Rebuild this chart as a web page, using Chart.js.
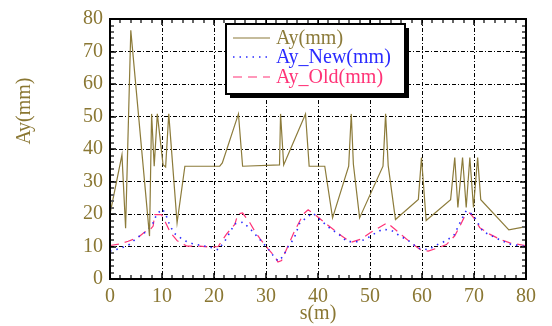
<!DOCTYPE html>
<html>
<head>
<meta charset="utf-8">
<script src="https://cdn.jsdelivr.net/npm/chart.js@4.4.1/dist/chart.umd.min.js"></script>
<style>
  html, body { margin: 0; padding: 0; background: #fff; }
</style>
</head>
<body>
<canvas id="aychart" width="552" height="326"></canvas>
<script>
// beam size along s, three curves
var sAy = [0, 2.3, 3.0, 4.0, 7.6, 8.0, 8.5, 9.1, 10.2, 10.7, 11.3, 12.9, 14.4, 21.1, 21.6, 24.7, 25.5,
  32.6, 32.8, 33.4, 37.6, 38.3, 41.3, 42.8, 45.9, 46.4, 46.8, 48.0, 52.5, 53.0, 53.5, 54.9, 59.3,
  59.9, 60.8, 65.5, 66.3, 66.9, 67.8, 68.5, 69.2, 69.9, 70.7, 71.3, 76.7, 80];
var ay = [20, 38.2, 15.6, 76.5, 13.2, 50.8, 34.7, 50.8, 35.2, 34.5, 50.8, 17.3, 34.7, 34.7, 35.7, 50.8, 34.7,
  35.1, 50.8, 35.1, 50.8, 34.7, 34.7, 18.8, 34.7, 50.8, 35.4, 18.8, 34.7, 50.8, 34.9, 18.3, 24.5,
  37.4, 18.0, 24.4, 37.4, 22, 37.4, 22, 37.4, 22, 37.4, 24.4, 15.1, 16.1];

var sNew = [0, 2, 3.7, 5.2, 7.0, 8.3, 9.0, 10.1, 10.8, 11.5, 12.4, 14.2, 15.8, 17.6, 19.2, 20.8, 22.1,
  24.0, 25.6, 27.2, 28.8, 30.4, 31.7, 32.4, 33.3, 34.2, 35.4, 36.5, 39.0, 40.0, 42.3, 44.0, 45.6,
  47.6, 49.0, 50.7, 52.4, 54.1, 55.7, 57.6, 59.2, 61.2, 62.6, 64.4, 66.1, 67.6, 68.5, 69.8, 71.7,
  73.5, 75.3, 77.2, 78.6, 80];
var ayNew = [8.6, 9.4, 10.6, 12.7, 14.6, 17.3, 20.0, 21.5, 19.5, 16.5, 14.0, 11.9, 10.9, 10.3, 9.8, 9.0, 11.7,
  17.0, 17.5, 15.0, 12.2, 9.3, 6.5, 5.5, 7.0, 9.8, 12.5, 17.3, 20.3, 18.8, 15.6, 13.8, 11.5,
  11.5, 12.1, 13.8, 15.3, 15.0, 13.3, 11.6, 9.5, 9.0, 10.3, 11.6, 13.3, 18.3, 21.0, 19.8, 14.6,
  13.2, 11.8, 10.6, 10.3, 10.0];

var sOld = [0, 1.9, 3.5, 5.4, 6.8, 7.6, 8.3, 8.6, 9.9, 10.8, 11.6, 12.9, 14.8, 17.3, 19.2, 20.8, 22.4,
  24.0, 24.6, 25.5, 26.9, 27.8, 28.9, 30.4, 31.7, 32.3, 33.0, 34.0, 35.5, 37.2, 38.1, 39.8, 41.7,
  44.5, 46.4, 48.3, 50.1, 53.3, 54.8, 57.0, 58.6, 59.9, 61.2, 63.1, 64.7, 66.3, 67.3, 68.2, 69.2,
  70.2, 71.1, 73.0, 74.9, 76.9, 79.8];
var ayOld = [10.3, 10.8, 11.6, 12.8, 14.6, 15.0, 16.3, 19.8, 19.8, 17.0, 14.3, 11.8, 10.1, 10.1, 9.8, 10.0, 13.8,
  16.8, 20.0, 20.3, 17.3, 14.8, 12.3, 9.3, 6.9, 5.2, 5.7, 9.3, 14.8, 20.0, 21.3, 19.3, 16.8,
  13.3, 11.3, 12.3, 14.3, 17.3, 15.3, 12.3, 10.3, 8.8, 8.6, 9.6, 10.6, 13.3, 16.3, 19.3, 20.3,
  18.3, 15.8, 13.8, 12.3, 11.1, 10.3];

var labels = ['Ay(mm)', 'Ay_New(mm)', 'Ay_Old(mm)'];

var olive = '#8a7733';
var serif = '"Liberation Serif", "Times New Roman", Times, "DejaVu Serif", "Noto Serif", serif';

function pts(xs, ys) {
  return xs.map(function(s, i) { return {x: s, y: ys[i]}; });
}

// frame, inward tick marks, boxed legend and the rotated y title
var decor = {
  id: 'decor',
  afterDraw: function(chart) {
    var ctx = chart.ctx, a = chart.chartArea;
    var x = chart.scales.x, y = chart.scales.y;
    ctx.save();

    for (var v = 0; v <= 80; v += 2) {
      var major = v % 10 === 0;
      var len = major ? 6 : 4;
      ctx.strokeStyle = major ? '#000' : '#666';
      ctx.lineWidth = major ? 1.5 : 2;
      var px = Math.round(x.getPixelForValue(v));
      var py = Math.round(y.getPixelForValue(v));
      ctx.beginPath();
      ctx.moveTo(px, a.bottom); ctx.lineTo(px, a.bottom - len);
      ctx.moveTo(px, a.top); ctx.lineTo(px, a.top + len);
      ctx.moveTo(a.left, py); ctx.lineTo(a.left + len, py);
      ctx.moveTo(a.right, py); ctx.lineTo(a.right - len, py);
      ctx.stroke();
    }

    ctx.strokeStyle = '#000';
    ctx.lineWidth = 2;
    ctx.strokeRect(a.left, a.top, a.right - a.left, a.bottom - a.top);

    // legend box with drop shadow
    var bx = 226, by = 24, bw = 179, bh = 70;
    ctx.fillStyle = '#000';
    ctx.fillRect(bx + 4, by + 4, bw, bh);
    ctx.fillStyle = '#fff';
    ctx.fillRect(bx, by, bw, bh);
    ctx.strokeRect(bx, by, bw, bh);
    var rows = [38, 57, 77];
    ctx.font = '20px ' + serif;
    ctx.textBaseline = 'middle';
    ctx.textAlign = 'left';
    chart.data.datasets.forEach(function(ds, i) {
      ctx.beginPath();
      ctx.setLineDash(ds.borderDash || []);
      ctx.strokeStyle = ds.borderColor;
      ctx.lineWidth = ds.borderWidth;
      ctx.moveTo(233, rows[i]);
      ctx.lineTo(270, rows[i]);
      ctx.stroke();
      ctx.setLineDash([]);
      ctx.fillStyle = ds.borderColor;
      ctx.fillText(ds.label, 276, rows[i] + 1);
    });

    ctx.translate(25, 111);
    ctx.rotate(-Math.PI / 2);
    ctx.textAlign = 'center';
    ctx.fillStyle = olive;
    ctx.fillText('Ay(mm)', 0, 0);
    ctx.restore();
  }
};

new Chart(document.getElementById('aychart'), {
  type: 'line',
  data: {
    datasets: [
      {
        label: labels[0],
        data: pts(sAy, ay),
        borderColor: '#8c7b3a',
        borderWidth: 1.2
      },
      {
        label: labels[1],
        data: pts(sNew, ayNew),
        borderColor: '#2a2aff',
        borderWidth: 1.6,
        borderDash: [1.5, 5]
      },
      {
        label: labels[2],
        data: pts(sOld, ayOld),
        borderColor: '#ff3377',
        borderWidth: 1.2,
        borderDash: [9, 6]
      }
    ]
  },
  options: {
    responsive: false,
    animation: false,
    elements: {
      line: { tension: 0, fill: false },
      point: { radius: 0 }
    },
    layout: { padding: { left: 0, right: 26, top: 14, bottom: 0 } },
    plugins: {
      legend: { display: false },
      tooltip: { enabled: false }
    },
    scales: {
      x: {
        type: 'linear',
        min: 0,
        max: 80,
        afterFit: function(s) { s.height = 47; },
        ticks: { stepSize: 10, padding: 6, color: olive, font: { family: serif, size: 20 } },
        grid: { color: '#000', lineWidth: 1, drawTicks: false },
        border: { display: false, dash: [4, 2, 1, 2] },
        title: { display: true, text: 's(m)', color: olive, padding: 0, font: { family: serif, size: 20 } }
      },
      y: {
        min: 0,
        max: 80,
        afterFit: function(s) { s.width = 110; },
        ticks: { stepSize: 10, padding: 7, color: olive, font: { family: serif, size: 20 } },
        grid: { color: '#000', lineWidth: 1, drawTicks: false },
        border: { display: false, dash: [4, 2, 1, 2] }
      }
    }
  },
  plugins: [decor]
});
</script>
</body>
</html>
